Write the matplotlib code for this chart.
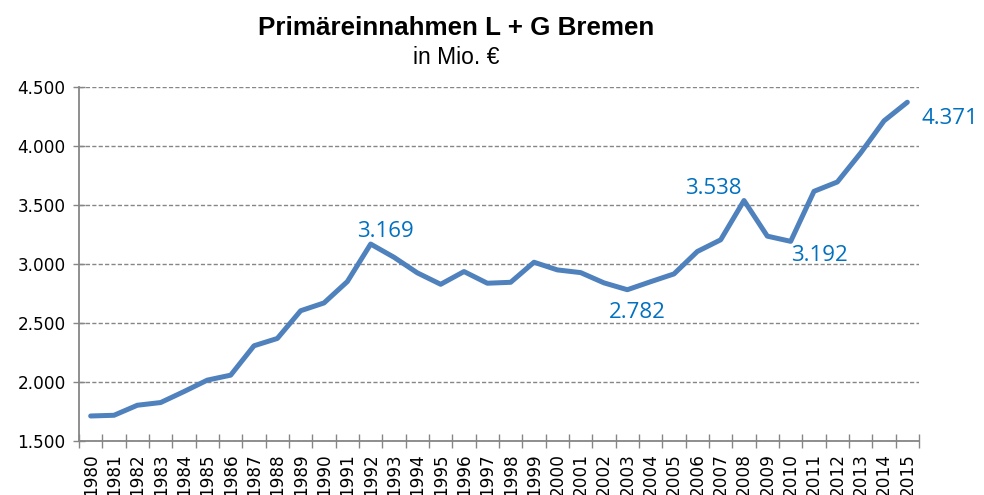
import matplotlib
matplotlib.use("Agg")
import matplotlib.pyplot as plt
from matplotlib.ticker import FixedLocator, FuncFormatter

years = [str(y) for y in range(1980, 2016)]
values = [1712, 1718, 1803, 1826, 1919, 2016, 2058, 2307, 2369, 2604,
          2670, 2851, 3169, 3057, 2925, 2828, 2936, 2837, 2845, 3015,
          2950, 2927, 2840, 2782, 2850, 2916, 3106, 3205, 3538, 3236,
          3192, 3616, 3695, 3941, 4213, 4371]
yticks = [1500, 2000, 2500, 3000, 3500, 4000, 4500]
labeled = {"1992": (15, 2, "center", "bottom"),
           "2003": (10, -12, "center", "top"),
           "2008": (-31, 2, "center", "bottom"),
           "2010": (29, -4, "center", "top"),
           "2015": (14, -16, "left", "center")}

plt.rcParams['font.family'] = ['Liberation Sans', 'DejaVu Sans']

fig = plt.figure(figsize=(9.84, 4.95), dpi=100)
ax = fig.add_axes([79/984, 1-441/495, 840/984, 354/495])

x = list(range(len(years)))
ax.plot(x, values, color='#4F81BD', lw=3.6, solid_joinstyle='round', solid_capstyle='round', zorder=3)

ax.set_xlim(-0.5, len(years) - 0.5)
ax.set_ylim(1500, 4500)
ax.set_yticks(yticks)
ax.yaxis.set_major_formatter(FuncFormatter(lambda v, p: f"{int(v):,}".replace(",", ".")))
ax.grid(axis='y', color='#868686', linestyle=(0, (3, 1.6)), lw=1.0)
ax.set_axisbelow(True)

ax.set_xticks(x)
ax.set_xticklabels(years, rotation=90)
ax.xaxis.set_minor_locator(FixedLocator([i - 0.5 for i in range(len(years) + 1)]))
ax.tick_params(axis='x', which='major', length=0, pad=9)
ax.tick_params(axis='x', which='minor', length=10, direction='inout', color='#868686', width=1)
ax.tick_params(axis='y', length=9, direction='inout', color='#868686', width=1, pad=5)
for lab in ax.get_xticklabels() + ax.get_yticklabels():
    lab.set_family(['DejaVu Sans'])
    lab.set_fontsize(12.2)

for s in ['top', 'right']:
    ax.spines[s].set_visible(False)
for s in ['left', 'bottom']:
    ax.spines[s].set_color('#868686')
    ax.spines[s].set_linewidth(1.3)

for yr, (dx, dy, ha, va) in labeled.items():
    i = years.index(yr)
    v = values[i]
    ax.annotate(f"{v:,}".replace(",", "."), (i, v), xytext=(dx, dy), textcoords='offset pixels',
                ha=ha, va=va, color='#0070C0', fontsize=16, family=['Open Sans', 'DejaVu Sans'],
                annotation_clip=False)

fig.text(456/984, 1-28/495, "Primäreinnahmen L + G Bremen", ha='center', va='center',
         fontsize=18.7, fontweight='bold')
fig.text(456/984, 1-57/495, "in Mio. €", ha='center', va='center', fontsize=16.5)

fig.savefig("out.png", dpi=100)
